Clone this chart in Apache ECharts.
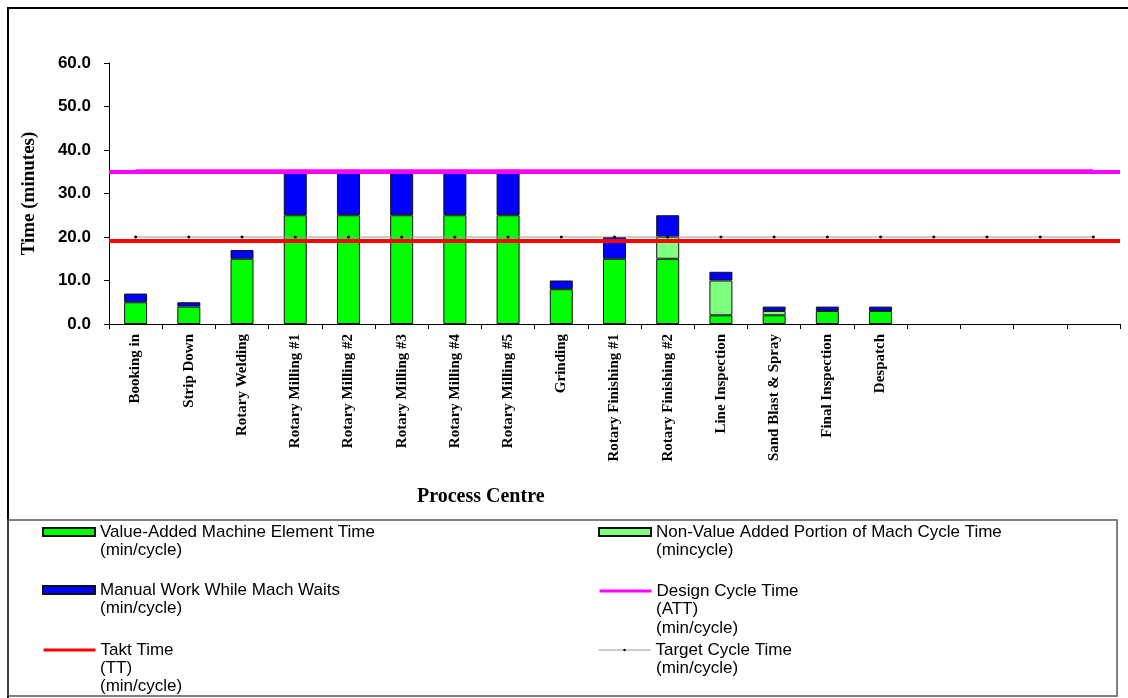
<!DOCTYPE html>
<html>
<head>
<meta charset="utf-8">
<title>Process Centre cycle times</title>
<script src="https://cdn.jsdelivr.net/npm/echarts/dist/echarts.min.js"></script>
<style>
  html, body { margin: 0; padding: 0; background: #fff; }
  #chart { width: 1128px; height: 698px; }
</style>
</head>
<body>
<div id="chart"></div>
<script>
// process centres (last 4 slots are empty in the original sheet)
const categories = [
  'Booking in', 'Strip Down', 'Rotary Welding',
  'Rotary Milling #1', 'Rotary Milling #2', 'Rotary Milling #3', 'Rotary Milling #4', 'Rotary Milling #5',
  'Grinding', 'Rotary Finishing #1', 'Rotary Finishing #2', 'Line Inspection',
  'Sand Blast & Spray', 'Final Inspection', 'Despatch', '', '', '', ''
]

// stacked bars, min/cycle
const valueAdded = [5, 4, 15, 25, 25, 25, 25, 25, 8, 15, 15, 2, 2, 3, 3, null, null, null, null]
const nonValueAdded = [null, null, null, null, null, null, null, null, null, null, 5, 8, 1, null, null, null, null, null, null]
const manualWork = [2, 1, 2, 10, 10, 10, 10, 10, 2, 5, 5, 2, 1, 1, 1, null, null, null, null]

// reference lines, min/cycle
const designCycle = [35.1, 35.1, 35.1, 35.1, 35.1, 35.1, 35.1, 35.1, 35.1, 35.1, 35.1, 35.1, 35.1, 35.1, 35.1, 35.1, 35.1, 35.1, 35.1]
const taktTime = [19.1, 19.1, 19.1, 19.1, 19.1, 19.1, 19.1, 19.1, 19.1, 19.1, 19.1, 19.1, 19.1, 19.1, 19.1, 19.1, 19.1, 19.1, 19.1]
const targetCycle = [20, 20, 20, 20, 20, 20, 20, 20, 20, 20, 20, 20, 20, 20, 20, 20, 20, 20, 20]

const yTicks = [0, 10, 20, 30, 40, 50, 60]

const names = {
  va: 'Value-Added Machine Element Time',
  nva: 'Non-Value Added Portion of Mach Cycle Time',
  manual: 'Manual Work While Mach Waits',
  design: 'Design Cycle Time',
  takt: 'Takt Time',
  target: 'Target Cycle Time'
}

const SANS = '"Liberation Sans", Arial, sans-serif'
const SERIF = '"Liberation Serif", "Times New Roman", serif'

const chart = echarts.init(document.getElementById('chart'))

// one legend per entry so the two columns sit where the sheet had them
const legendBase = {
  orient: 'vertical',
  padding: 0,
  itemWidth: 52,
  itemHeight: 8,
  itemGap: 0,
  textStyle: { fontFamily: SANS, fontSize: 17, color: '#000', lineHeight: 18 },
  selectedMode: false
}
const legendAt = (name, left, top, extra) =>
  Object.assign({}, legendBase, { data: [name], left, top }, extra || {})

// the legend only holds the first line of each label, the rest sit underneath
const note = (text, x, y) => ({
  type: 'text',
  x: x,
  y: y,
  style: { text, font: '17px ' + SANS, fill: '#000', verticalAlign: 'middle' }
})

const barStyle = color => ({ color, borderColor: '#111', borderWidth: 1 })
const noSymbol = { color: 'rgba(0,0,0,0)', borderWidth: 0 }

// horizontal line over the whole plot width, same as the sheet draws it
const fullWidth = (value, color) => ({
  silent: true,
  symbol: 'none',
  label: { show: false },
  lineStyle: { color, width: 4, type: 'solid' },
  data: [{ yAxis: value }]
})

const option = {
  animation: false,
  backgroundColor: '#fff',
  grid: { left: 109, top: 63, right: 8, bottom: 374, containLabel: false },
  legend: [
    legendAt(names.va, 42, 523, { icon: 'rect' }),
    legendAt(names.manual, 42, 581, { icon: 'rect' }),
    legendAt(names.takt, 42, 641, { itemStyle: noSymbol, lineStyle: { width: 3 } }),
    legendAt(names.nva, 598, 523, { icon: 'rect' }),
    legendAt(names.design, 598, 582, { itemStyle: noSymbol, lineStyle: { width: 3 } }),
    legendAt(names.target, 598, 641, { itemHeight: 3, lineStyle: { width: 1 } })
  ],
  xAxis: {
    type: 'category',
    data: categories,
    boundaryGap: true,
    axisLine: { lineStyle: { color: '#000', width: 1 } },
    axisTick: { show: true, interval: 0, length: 5, lineStyle: { color: '#000' } },
    axisLabel: {
      interval: 0,
      rotate: 90,
      margin: 10,
      color: '#000',
      fontFamily: SERIF,
      fontWeight: 'bold',
      fontSize: 15
    },
    splitLine: { show: false }
  },
  yAxis: {
    type: 'value',
    min: yTicks[0],
    max: yTicks[yTicks.length - 1],
    interval: 10,
    name: 'Time (minutes)',
    nameLocation: 'middle',
    nameGap: 70,
    nameTextStyle: { fontFamily: SERIF, fontWeight: 'bold', fontSize: 19, color: '#000' },
    axisLine: { show: true, lineStyle: { color: '#000', width: 1 } },
    axisTick: { show: true, length: 5, lineStyle: { color: '#000' } },
    axisLabel: {
      margin: 18,
      color: '#000',
      fontFamily: SANS,
      fontWeight: 'bold',
      fontSize: 17,
      formatter: v => v.toFixed(1)
    },
    splitLine: { show: false }
  },
  series: [
    { name: names.va, type: 'bar', stack: 'time', barWidth: 23, data: valueAdded, itemStyle: barStyle('#00ff00') },
    { name: names.nva, type: 'bar', stack: 'time', barWidth: 23, data: nonValueAdded, itemStyle: barStyle('#80ff80') },
    { name: names.manual, type: 'bar', stack: 'time', barWidth: 23, data: manualWork, itemStyle: barStyle('#0000ff') },
    {
      name: names.target, type: 'line', data: targetCycle, z: 3,
      symbol: 'circle', symbolSize: 3,
      itemStyle: { color: '#000' },
      lineStyle: { color: '#9a9a9a', width: 1 }
    },
    {
      name: names.takt, type: 'line', data: taktTime, z: 4, symbol: 'none',
      itemStyle: { color: '#ff0000' },
      lineStyle: { color: '#ff0000', width: 4 },
      markLine: fullWidth(taktTime[0], '#ff0000')
    },
    {
      name: names.design, type: 'line', data: designCycle, z: 4, symbol: 'none',
      itemStyle: { color: '#ff00ff' },
      lineStyle: { color: '#ff00ff', width: 4 },
      markLine: fullWidth(designCycle[0], '#ff00ff')
    }
  ],
  graphic: [
    // outer chart frame and legend box
    { type: 'rect', shape: { x: 8, y: 8, width: 1200, height: 720 }, style: { fill: 'none', stroke: '#000', lineWidth: 2 }, silent: true, z: -1 },
    { type: 'rect', shape: { x: 8, y: 520, width: 1109, height: 176 }, style: { fill: 'none', stroke: '#555', lineWidth: 1.5 }, silent: true, z: -1 },
    {
      type: 'text', left: 417, top: 487,
      style: { text: 'Process Centre', font: 'bold 20px ' + SERIF, fill: '#000' }
    },
    note('(min/cycle)', 100, 550),
    note('(min/cycle)', 100, 608),
    note('(TT)', 100, 668),
    note('(min/cycle)', 100, 686),
    note('(mincycle)', 656, 550),
    note('(ATT)', 656, 609),
    note('(min/cycle)', 656, 628),
    note('(min/cycle)', 656, 668)
  ]
}

chart.setOption(option)
</script>
</body>
</html>
